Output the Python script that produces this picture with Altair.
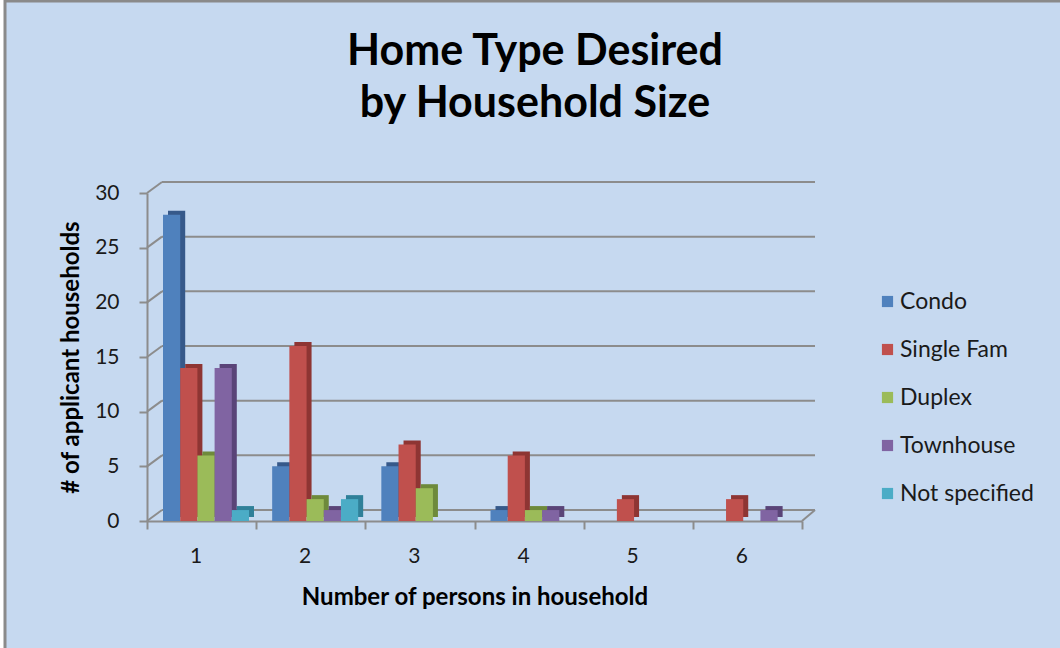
import altair as alt
import pandas as pd

categories = ["1", "2", "3", "4", "5", "6"]
series = ["Condo", "Single Fam", "Duplex", "Townhouse", "Not specified"]
condo = [28, 5, 5, 1, 0, 0]
single_fam = [14, 16, 7, 6, 2, 2]
duplex = [6, 2, 3, 1, 0, 0]
townhouse = [14, 1, 0, 1, 0, 1]
not_specified = [1, 2, 0, 0, 0, 0]
front_colors = ["#4F81BD", "#C0504D", "#9BBB59", "#8064A2", "#4BACC6"]
side_colors = ["#36598A", "#8E3533", "#6E8A3B", "#5A4478", "#2F8099"]
grid_values = [0, 5, 10, 15, 20, 25, 30]
title_text = "Home Type Desired\nby Household Size"

rows = []
for s, vals, dark in zip(series, [condo, single_fam, duplex, townhouse, not_specified], side_colors):
    for c, v in zip(categories, vals):
        if v > 0:
            rows.append({"size": c, "type": s, "count": v, "dark": dark})
df = pd.DataFrame(rows)
grid_df = pd.DataFrame({"v": grid_values})
one = pd.DataFrame({"v": [0]})

W, H = 655, 328
PL, PT = 147, 193
PR, PB = 1060 - PL - W, 648 - PT - H
FONT = "Lato"
GRAY = "#8C8C8C"
DX, DY = 15, 11

xscale = alt.Scale(domain=categories, paddingInner=0, paddingOuter=0)
yscale = alt.Scale(domain=[0, 30])

grid = alt.Chart(grid_df).mark_rule(color=GRAY, strokeWidth=2, yOffset=-DY).encode(
    y=alt.Y("v:Q", scale=yscale),
    x=alt.value(DX), x2=alt.value(W + 13),
)
diag = alt.Chart(grid_df).mark_rule(color=GRAY, strokeWidth=2, y2Offset=-DY).encode(
    y=alt.Y("v:Q", scale=yscale), y2="v:Q",
    x=alt.value(0), x2=alt.value(DX),
)
floor_right = alt.Chart(one).mark_rule(color=GRAY, strokeWidth=2, y2Offset=-DY).encode(
    y=alt.Y("v:Q", scale=yscale), y2="v:Q",
    x=alt.value(W), x2=alt.value(W + 13),
)

side = alt.Chart(df).mark_bar(yOffset=-4).encode(
    x=alt.X("size:N", scale=xscale),
    xOffset=alt.XOffset("type:N", scale=alt.Scale(domain=series, range=[21, 107], paddingInner=0, paddingOuter=0)),
    y=alt.Y("count:Q", scale=yscale),
    fill=alt.Fill("dark:N", scale=None),
)

front = alt.Chart(df).mark_bar().encode(
    x=alt.X("size:N", scale=xscale, sort=categories,
            axis=alt.Axis(title="Number of persons in household", labelAngle=0,
                          tickBand="extent", tickSize=8, tickColor=GRAY, tickWidth=2,
                          domainColor=GRAY, domainWidth=2, labelPadding=27,
                          labelFontSize=21, labelFont=FONT, labelColor="#1a1a1a",
                          titleFontSize=24, titleFont=FONT, titleFontWeight="bold",
                          titleColor="#000000", titlePadding=19)),
    xOffset=alt.XOffset("type:N", scale=alt.Scale(domain=series, range=[16, 102], paddingInner=0, paddingOuter=0)),
    y=alt.Y("count:Q", scale=yscale,
            axis=alt.Axis(title="# of applicant households", values=grid_values, grid=False,
                          tickSize=8, tickColor=GRAY, tickWidth=2,
                          domainColor=GRAY, domainWidth=2, labelPadding=20,
                          labelFontSize=21, labelFont=FONT, labelColor="#1a1a1a",
                          titleFontSize=24, titleFont=FONT, titleFontWeight="bold",
                          titleColor="#000000", titlePadding=11)),
    color=alt.Color("type:N", scale=alt.Scale(domain=series, range=front_colors),
                    legend=alt.Legend(title=None, orient="none", legendX=729, legendY=97,
                                      symbolType="square", symbolSize=125, symbolStrokeWidth=0,
                                      labelFontSize=23, labelFont=FONT, labelColor="#1a1a1a",
                                      rowPadding=24, labelOffset=1)),
)

title = alt.Chart(one).mark_text(
    text=title_text, lineBreak="\n", lineHeight=52, font=FONT, fontSize=43,
    fontWeight="bold", color="#000000", align="center", baseline="alphabetic",
).encode(x=alt.value(535 - PL), y=alt.value(65 - PT))

white_strip = alt.Chart(one).mark_rect(color="white").encode(
    x=alt.value(-PL), x2=alt.value(-PL + 4), y=alt.value(-PT), y2=alt.value(H + PB))
border_top = alt.Chart(one).mark_rule(color="#8A8A8A", strokeWidth=3).encode(
    x=alt.value(-PL + 4), x2=alt.value(W + PR), y=alt.value(-PT + 1), y2=alt.value(-PT + 1))
border_left = alt.Chart(one).mark_rule(color="#8A8A8A", strokeWidth=3).encode(
    x=alt.value(-PL + 5), x2=alt.value(-PL + 5), y=alt.value(-PT), y2=alt.value(H + PB))

chart = alt.layer(grid, diag, floor_right, side, front, title, white_strip, border_top, border_left).resolve_scale(
    xOffset="independent"
).properties(
    width=W, height=H,
    autosize=alt.AutoSizeParams(type="none"),
    padding={"left": PL, "top": PT, "right": PR, "bottom": PB},
    background="#C6D9F0",
).configure_view(stroke=None)

chart.save("out.html", embed_options={"renderer": "svg", "actions": False})
